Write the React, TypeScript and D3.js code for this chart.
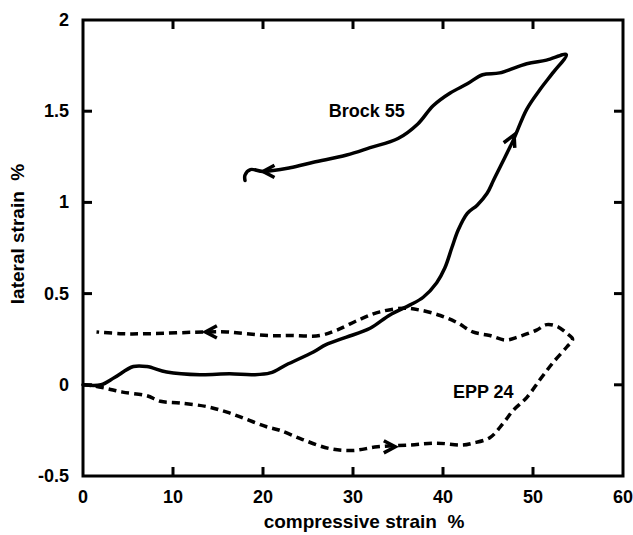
import React from "react";
import * as d3 from "d3";

const xTicks = [0, 10, 20, 30, 40, 50, 60];
const yTicks = [-0.5, 0, 0.5, 1, 1.5, 2];
const yTickLabels = ["-0.5", "0", "0.5", "1", "1.5", "2"];

const brockX = [0, 2, 3.5, 5.6, 7.1, 9.3, 13, 16.3, 18.9, 20.8, 22.6, 25.6, 27, 29.2, 31.9, 34.1, 36.3, 37.8, 39.3, 40.2, 41.0, 41.7, 42.7, 43.8, 44.9, 45.6, 46.4, 47.8, 49.3, 50.8, 52.2, 53.7,
  51.5, 49.3, 46.3, 44.4, 42.7, 40.8, 38.9, 37.2, 35, 31.9, 29.3, 25.6, 23, 20, 18.6, 18, 18];
const brockY = [0, 0, 0.04, 0.1, 0.1, 0.07, 0.055, 0.06, 0.055, 0.065, 0.11, 0.18, 0.22, 0.26, 0.31, 0.383, 0.437, 0.48, 0.56, 0.64, 0.754, 0.85, 0.94, 0.985, 1.05, 1.12, 1.2, 1.34, 1.51, 1.62, 1.71, 1.81,
  1.78, 1.76, 1.71, 1.7, 1.65, 1.6, 1.53, 1.43, 1.35, 1.3, 1.26, 1.22, 1.19, 1.17, 1.18, 1.15, 1.12];

const eppX = [0, 1, 2.6, 4.4, 7.1, 8.6, 10.8, 13.8, 16, 18.2, 20.4, 21.9, 24.4, 27.4, 30, 32.7, 36.3, 39.3, 42.2, 43.3, 45.2, 46.7, 47.8, 49.3, 50.8, 52.2, 53.8, 54.4,
  53.8, 52.7, 51.5, 50.4, 48.2, 47, 45.2, 43.3, 41.6, 39.7, 37.4, 35.6, 33, 30.8, 28.2, 26.3, 23, 20.8, 18.2, 16, 13.8, 7.1, 4.4, 1.5];
const eppY = [0, -0.005, -0.02, -0.04, -0.06, -0.09, -0.1, -0.12, -0.15, -0.19, -0.23, -0.25, -0.3, -0.35, -0.36, -0.34, -0.33, -0.32, -0.33, -0.32, -0.29, -0.21, -0.14, -0.07, 0.03, 0.12, 0.21, 0.25,
  0.28, 0.32, 0.33, 0.3, 0.26, 0.245, 0.27, 0.29, 0.34, 0.38, 0.41, 0.42, 0.4, 0.36, 0.3, 0.27, 0.27, 0.27, 0.28, 0.29, 0.29, 0.28, 0.28, 0.29];

// arrows: tip position (data units) and direction in degrees (screen, 0 = right)
const arrowX = [47.9, 20, 13.6, 34.7];
const arrowY = [1.37, 1.17, 0.29, -0.34];
const arrowDir = [-65, 180, 180, 0];

const labelText = ["Brock 55", "EPP 24"];
const labelX = [27.3, 41.1];
const labelY = [1.47, -0.07];

const W = 633, H = 535;
const FONT = "'Liberation Sans', Arial, Helvetica, sans-serif";

export default function App() {
  const x = d3.scaleLinear().domain([0, 60]).range([83, 623]);
  const y = d3.scaleLinear().domain([-0.5, 2]).range([476, 20]);
  const line = d3.line<[number, number]>().x(d => x(d[0])).y(d => y(d[1])).curve(d3.curveCatmullRom.alpha(0.5));
  const brock = brockX.map((v, i) => [v, brockY[i]] as [number, number]);
  const epp = eppX.map((v, i) => [v, eppY[i]] as [number, number]);
  const tl = 9;

  return (
    <svg width={W} height={H} style={{ position: "absolute", left: 0, top: 0, background: "#fff" }} fontFamily={FONT}>
      <rect x={x(0)} y={y(2)} width={x(60) - x(0)} height={y(-0.5) - y(2)} fill="none" stroke="#000" strokeWidth={3} />
      {xTicks.slice(1, -1).map(t => (
        <g key={"xt" + t}>
          <line x1={x(t)} x2={x(t)} y1={y(-0.5)} y2={y(-0.5) - tl} stroke="#000" strokeWidth={3} />
          <line x1={x(t)} x2={x(t)} y1={y(2)} y2={y(2) + tl} stroke="#000" strokeWidth={3} />
        </g>
      ))}
      {yTicks.slice(1, -1).map(t => (
        <g key={"yt" + t}>
          <line x1={x(0)} x2={x(0) + tl} y1={y(t)} y2={y(t)} stroke="#000" strokeWidth={3} />
          <line x1={x(60)} x2={x(60) - tl} y1={y(t)} y2={y(t)} stroke="#000" strokeWidth={3} />
        </g>
      ))}
      {xTicks.map(t => (
        <text key={"xl" + t} x={x(t)} y={y(-0.5) + 27} textAnchor="middle" fontSize={18} fontWeight="bold">{t}</text>
      ))}
      {yTicks.map((t, i) => (
        <text key={"yl" + t} x={x(0) - 14} y={y(t) + 6} textAnchor="end" fontSize={18} fontWeight="bold">{yTickLabels[i]}</text>
      ))}
      <text x={(x(0) + x(60)) / 2 + 11} y={528} textAnchor="middle" fontSize={19} fontWeight="bold" xmlSpace="preserve">compressive strain  %</text>
      <text transform={`translate(24,${(y(-0.5) + y(2)) / 2 - 14}) rotate(-90)`} textAnchor="middle" fontSize={19} fontWeight="bold" xmlSpace="preserve">lateral strain  %</text>

      <path d={line(brock) || ""} fill="none" stroke="#000" strokeWidth={3.5} strokeLinejoin="round" strokeLinecap="round" />
      <path d={line(epp) || ""} fill="none" stroke="#000" strokeWidth={3.5} strokeDasharray="8,5" />

      {arrowX.map((ax, i) => {
        const px = x(ax), py = y(arrowY[i]);
        const a = (arrowDir[i] * Math.PI) / 180;
        const len = 13, spread = (28 * Math.PI) / 180;
        const b1 = [px - len * Math.cos(a - spread), py - len * Math.sin(a - spread)];
        const b2 = [px - len * Math.cos(a + spread), py - len * Math.sin(a + spread)];
        return (
          <path key={"ar" + i} d={`M${b1[0]},${b1[1]}L${px},${py}L${b2[0]},${b2[1]}`} fill="none" stroke="#000" strokeWidth={3.5} strokeLinejoin="miter" />
        );
      })}

      {labelText.map((t, i) => (
        <text key={"lab" + i} x={x(labelX[i])} y={y(labelY[i])} fontSize={18} fontWeight="bold">{t}</text>
      ))}
    </svg>
  );
}
